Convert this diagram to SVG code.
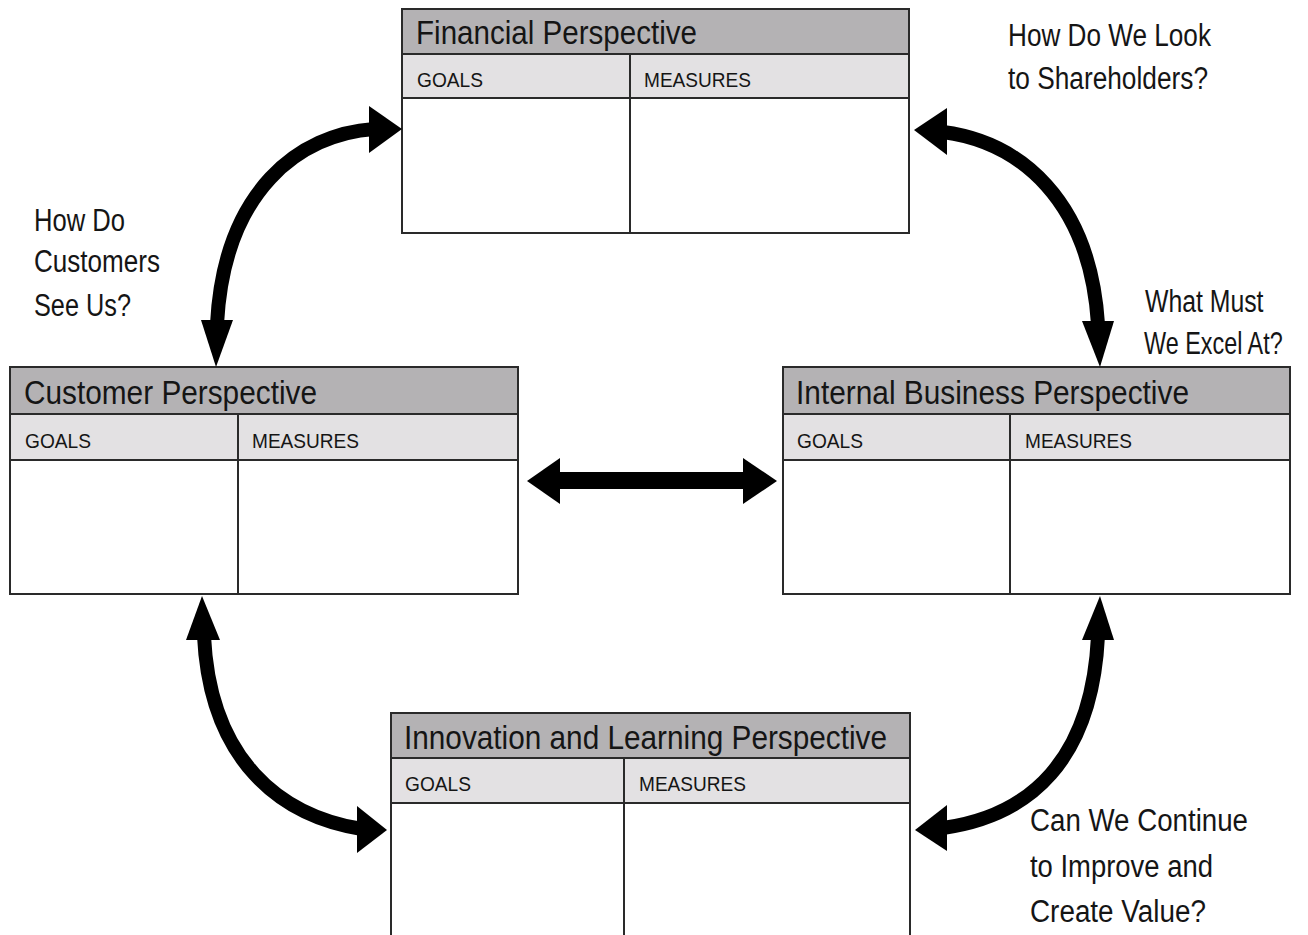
<svg xmlns="http://www.w3.org/2000/svg" width="1308" height="935" viewBox="0 0 1308 935">
  <style>
    .frame { fill: #ffffff; stroke: #2a2a2a; stroke-width: 2; }
    .band { fill: #b4b2b4; stroke: #2a2a2a; stroke-width: 2; }
    .sub { fill: #e3e1e3; stroke: #2a2a2a; stroke-width: 2; }
    .rule { stroke: #2a2a2a; stroke-width: 2; }
    .title { font-family: "Liberation Sans", Arial, sans-serif; font-size: 34px; fill: #151515; }
    .col { font-family: "Liberation Sans", Arial, sans-serif; font-size: 20px; fill: #151515; }
    .note { font-family: "Liberation Sans", Arial, sans-serif; font-size: 31px; fill: #151515; }
    .shaft { fill: none; stroke: #000000; stroke-width: 14; }
    .head { fill: #000000; }
  </style>

  <!-- Financial -->
  <g id="financial">
    <rect class="frame" x="402" y="9" width="507" height="224"/>
    <rect class="band" x="402" y="9" width="507" height="45"/>
    <rect class="sub" x="402" y="54" width="507" height="44"/>
    <line class="rule" x1="630" y1="54" x2="630" y2="233"/>
    <text class="title" x="416" y="44" textLength="281" lengthAdjust="spacingAndGlyphs">Financial Perspective</text>
    <text class="col" x="417" y="87" textLength="66" lengthAdjust="spacingAndGlyphs">GOALS</text>
    <text class="col" x="644" y="87" textLength="107" lengthAdjust="spacingAndGlyphs">MEASURES</text>
  </g>

  <!-- Customer -->
  <g id="customer">
    <rect class="frame" x="10" y="367" width="508" height="227"/>
    <rect class="band" x="10" y="367" width="508" height="47"/>
    <rect class="sub" x="10" y="414" width="508" height="46"/>
    <line class="rule" x1="238" y1="414" x2="238" y2="594"/>
    <text class="title" x="24" y="404" textLength="293" lengthAdjust="spacingAndGlyphs">Customer Perspective</text>
    <text class="col" x="25" y="448" textLength="66" lengthAdjust="spacingAndGlyphs">GOALS</text>
    <text class="col" x="252" y="448" textLength="107" lengthAdjust="spacingAndGlyphs">MEASURES</text>
  </g>

  <!-- Internal Business -->
  <g id="internal">
    <rect class="frame" x="783" y="367" width="507" height="227"/>
    <rect class="band" x="783" y="367" width="507" height="47"/>
    <rect class="sub" x="783" y="414" width="507" height="46"/>
    <line class="rule" x1="1010" y1="414" x2="1010" y2="594"/>
    <text class="title" x="796" y="404" textLength="393" lengthAdjust="spacingAndGlyphs">Internal Business Perspective</text>
    <text class="col" x="797" y="448" textLength="66" lengthAdjust="spacingAndGlyphs">GOALS</text>
    <text class="col" x="1025" y="448" textLength="107" lengthAdjust="spacingAndGlyphs">MEASURES</text>
  </g>

  <!-- Innovation and Learning -->
  <g id="innovation">
    <rect class="frame" x="391" y="713" width="519" height="250"/>
    <rect class="band" x="391" y="713" width="519" height="45"/>
    <rect class="sub" x="391" y="758" width="519" height="45"/>
    <line class="rule" x1="624" y1="758" x2="624" y2="963"/>
    <text class="title" x="404" y="749" textLength="483" lengthAdjust="spacingAndGlyphs">Innovation and Learning Perspective</text>
    <text class="col" x="405" y="791" textLength="66" lengthAdjust="spacingAndGlyphs">GOALS</text>
    <text class="col" x="639" y="791" textLength="107" lengthAdjust="spacingAndGlyphs">MEASURES</text>
  </g>

  <!-- Questions -->
  <g id="q-shareholders">
    <text class="note" x="1008" y="46" textLength="203" lengthAdjust="spacingAndGlyphs">How Do We Look</text>
    <text class="note" x="1008" y="89" textLength="200" lengthAdjust="spacingAndGlyphs">to Shareholders?</text>
  </g>
  <g id="q-customers">
    <text class="note" x="34" y="231" textLength="91" lengthAdjust="spacingAndGlyphs">How Do</text>
    <text class="note" x="34" y="272" textLength="126" lengthAdjust="spacingAndGlyphs">Customers</text>
    <text class="note" x="34" y="316" textLength="97" lengthAdjust="spacingAndGlyphs">See Us?</text>
  </g>
  <g id="q-excel">
    <text class="note" transform="translate(1145,312) scale(0.8,1)">What Must</text>
    <text class="note" transform="translate(1144,354) scale(0.755,1)">We Excel At?</text>
  </g>
  <g id="q-improve">
    <text class="note" x="1030" y="831" textLength="218" lengthAdjust="spacingAndGlyphs">Can We Continue</text>
    <text class="note" x="1030" y="877" textLength="183" lengthAdjust="spacingAndGlyphs">to Improve and</text>
    <text class="note" x="1030" y="922" textLength="176" lengthAdjust="spacingAndGlyphs">Create Value?</text>
  </g>

  <!-- Connectors: double-headed arrows between perspectives -->
  <g id="connectors">
    <!-- Financial <-> Customer -->
    <path class="shaft" d="M374,129 C300,134 224,190 217,324"/>
    <polygon class="head" points="402,129 369,106 369,153"/>
    <polygon class="head" points="216,367 201,320 233,320"/>

    <!-- Financial <-> Internal -->
    <path class="shaft" d="M943,132 C1020,142 1090,200 1098,324"/>
    <polygon class="head" points="914,130 947,108 947,155"/>
    <polygon class="head" points="1100,367 1082,321 1114,321"/>

    <!-- Customer <-> Internal -->
    <rect class="head" x="556" y="472" width="191" height="17"/>
    <polygon class="head" points="527,481 560,458 560,504"/>
    <polygon class="head" points="777,481 743,458 743,504"/>

    <!-- Customer <-> Innovation -->
    <path class="shaft" d="M204,636 C210,760 280,816 362,829"/>
    <polygon class="head" points="202,596 186,640 220,640"/>
    <polygon class="head" points="387,830 357,806 357,853"/>

    <!-- Internal <-> Innovation -->
    <path class="shaft" d="M1098,636 C1092,760 1030,816 943,828"/>
    <polygon class="head" points="1100,596 1082,640 1114,640"/>
    <polygon class="head" points="915,830 947,805 947,851"/>
  </g>
</svg>
